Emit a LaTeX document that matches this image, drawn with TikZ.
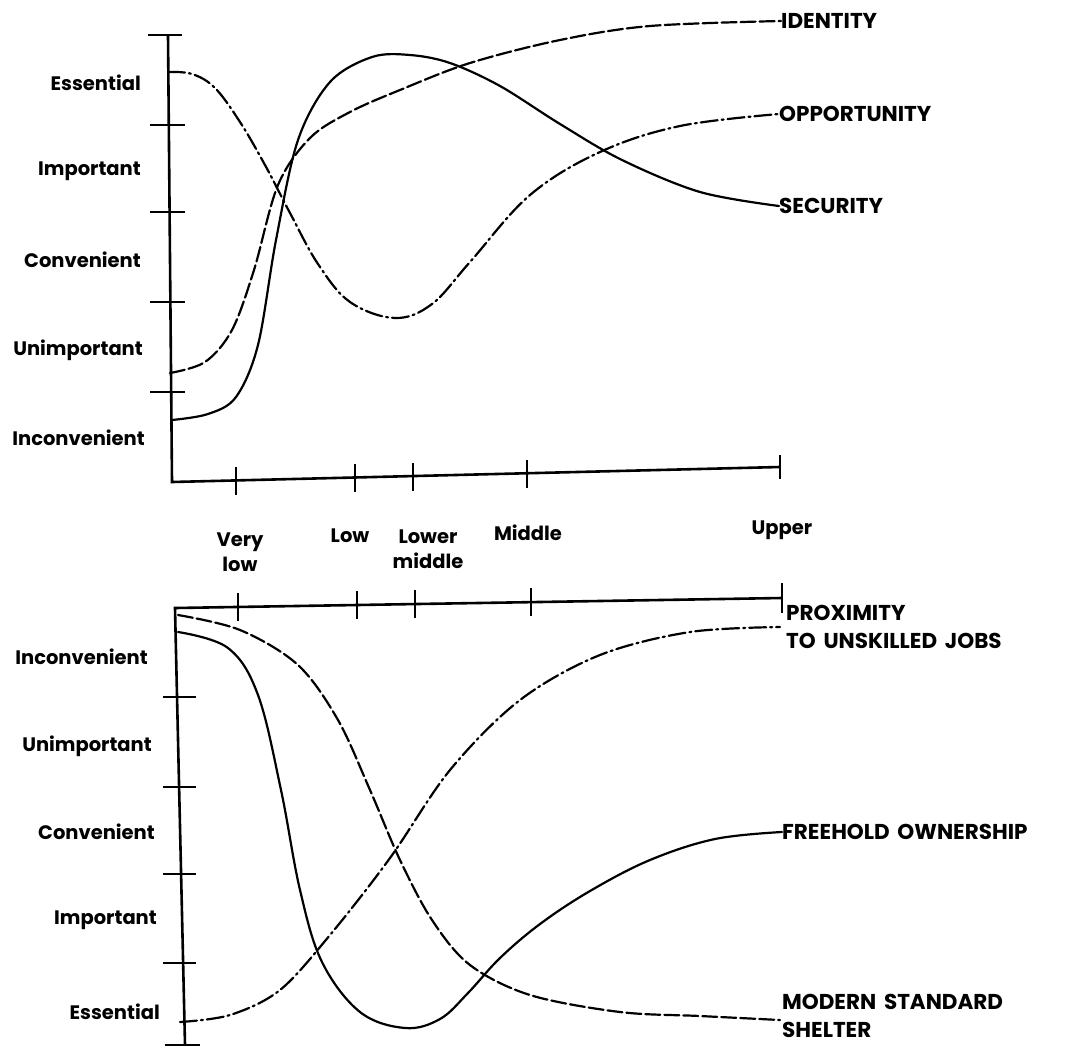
\documentclass[tikz,border=0pt]{standalone}
\usepackage{fontspec}
\setmainfont{Poppins}
\newfontfamily\capsfont{Poppins}[WordSpace=1.7]

\tikzset{
  axis/.style={line width=2.6pt},
  curve/.style={line width=2.2pt, line cap=round},
  dashline/.style={curve, dash pattern=on 15pt off 4pt},
  dotline/.style={curve, dash pattern=on 17pt off 4pt on 2pt off 4pt},
  lbl/.style={font=\bfseries\fontsize{19.5}{25}\selectfont, inner sep=0pt},
  caps/.style={font=\capsfont\bfseries\fontsize{21.5}{28}\selectfont, inner sep=0pt},
}

\begin{document}
\begin{tikzpicture}[x=1pt, y=-1pt]
\useasboundingbox (0,0) rectangle (1067,1049);

     % Upper chart: axes
     \draw[axis] (148,35) -- (182,35);
     \draw[axis] (168,35) -- (172,482) -- (780,467);
     \foreach \y in {125,212,302,392}
        \draw[axis] (150,\y) -- (185,\y);
     \foreach \x/\y in {236/481, 355/478, 413/477, 527/474}
        \draw[axis] (\x,\y-14) -- (\x,\y+14);
     \draw[axis] (780,455) -- (780,479);

     % Upper chart: scale
     \node[lbl, anchor=east] (uEss) at (141,83) {Essential};
     \node[lbl, anchor=east] (uImp) at (141,171) {Important};
     \node[lbl, anchor=east] (uCon) at (141,260) {Convenient};
     \node[lbl, anchor=east] (uUni) at (143,350) {Unimportant};
     \node[lbl, anchor=east] (uInc) at (145,438) {Inconvenient};

     % Income groups
     \node[lbl, align=center] (veryLow) at (240,552) {Very\\low};
     \node[lbl] (low) at (350,536) {Low};
     \node[lbl, align=center] (lowerMid) at (428,549) {Lower\\middle};
     \node[lbl] (middle) at (528,533) {Middle};
     \node[lbl] (upper) at (782,530) {Upper};

     % Upper chart: curve names
     \node[caps, anchor=west] (identity) at (781,21) {IDENTITY};
     \node[caps, anchor=west] (opportunity) at (779,114) {OPPORTUNITY};
     \node[caps, anchor=west] (security) at (779,206) {SECURITY};

     \coordinate (idStart) at (170,373);
     \coordinate (opStart) at (168,72);
     \coordinate (seStart) at (172,420);

     \draw[dashline] plot[smooth, tension=0.55] coordinates {(idStart) (205,362) (232,330) (254,270) (278,185) (310,138) (350,112) (400,90) (470,63) (560,40) (650,26) (identity.west)};
     \draw[dotline] plot[smooth, tension=0.6] coordinates {(opStart) (192,74) (215,88) (240,122) (265,165) (290,213) (318,264) (350,302) (395,318) (432,304) (470,262) (530,195) (600,152) (680,126) (opportunity.west)};
     \draw[curve] plot[smooth, tension=0.55] coordinates {(seStart) (208,414) (236,397) (258,345) (276,240) (298,140) (330,82) (372,57) (410,55) (450,63) (500,86) (560,124) (622,160) (700,192) (security.west)};

     % Lower chart: axes
     \draw[axis] (782,598) -- (175,608) -- (185,1045);
     \draw[axis] (165,1045) -- (200,1045);
     \foreach \y in {697,787,874,963}
        \draw[axis] (163,\y) -- (196,\y);
     \foreach \x/\y in {238/607, 357/605, 415/604, 531/602}
        \draw[axis] (\x,\y-14) -- (\x,\y+14);
     \draw[axis] (782,583) -- (782,613);

     % Lower chart: scale
     \node[lbl, anchor=east] (lInc) at (148,657) {Inconvenient};
     \node[lbl, anchor=east] (lUni) at (152,746) {Unimportant};
     \node[lbl, anchor=east] (lCon) at (155,832) {Convenient};
     \node[lbl, anchor=east] (lImp) at (157,920) {Important};
     \node[lbl, anchor=east] (lEss) at (160,1012) {Essential};

     % Lower chart: curve names
     \node[caps, anchor=north west, align=left] (proximity) at (786,605) {PROXIMITY\\TO UNSKILLED JOBS};
     \node[caps, anchor=west] (freehold) at (782,832) {FREEHOLD OWNERSHIP};
     \node[caps, anchor=north west, align=left] (shelter) at (782,994) {MODERN STANDARD\\SHELTER};

     \coordinate (prEnd) at (780,627);
     \coordinate (frEnd) at (freehold.west);
     \coordinate (shEnd) at (780,1020);
     \coordinate (prStart) at (180,1022);
     \coordinate (frStart) at (178,632);
     \coordinate (shStart) at (178,615);

     \draw[dotline] plot[smooth, tension=0.55] coordinates {(prStart) (230,1015) (280,990) (330,935) (390,858) (450,770) (520,700) (600,655) (690,632) (prEnd)};
     \draw[curve] plot[smooth, tension=0.6] coordinates {(frStart) (228,648) (258,695) (281,790) (300,890) (322,962) (360,1012) (405,1028) (440,1019) (468,993) (500,958) (540,924) (590,891) (650,860) (715,839) (frEnd)};
     \draw[dashline] plot[smooth, tension=0.55] coordinates {(shStart) (240,630) (298,665) (338,720) (370,790) (400,860) (432,920) (470,965) (530,995) (620,1012) (700,1016) (shEnd)};

\end{tikzpicture}
\end{document}
